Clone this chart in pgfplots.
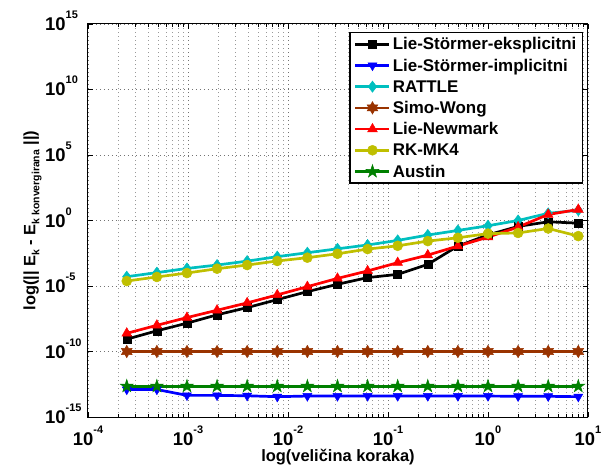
\documentclass[border=0pt]{standalone}
\usepackage{pgfplots}
\pgfplotsset{compat=1.18}
\usepackage{fontspec}
\setmainfont{Liberation Sans}
\usetikzlibrary{plotmarks}

\definecolor{mcyan}{rgb}{0,0.75,0.75}
\definecolor{mbrown}{rgb}{0.6,0.2,0}
\definecolor{myellow}{rgb}{0.75,0.75,0}
\definecolor{mgreen}{rgb}{0,0.5,0}

\pgfdeclareplotmark{hexa}{%
  \pgfpathmoveto{\pgfpointpolar{90}{\pgfplotmarksize}}%
  \pgfpathlineto{\pgfpointpolar{120}{0.577\pgfplotmarksize}}%
  \pgfpathlineto{\pgfpointpolar{150}{\pgfplotmarksize}}%
  \pgfpathlineto{\pgfpointpolar{180}{0.577\pgfplotmarksize}}%
  \pgfpathlineto{\pgfpointpolar{210}{\pgfplotmarksize}}%
  \pgfpathlineto{\pgfpointpolar{240}{0.577\pgfplotmarksize}}%
  \pgfpathlineto{\pgfpointpolar{270}{\pgfplotmarksize}}%
  \pgfpathlineto{\pgfpointpolar{300}{0.577\pgfplotmarksize}}%
  \pgfpathlineto{\pgfpointpolar{330}{\pgfplotmarksize}}%
  \pgfpathlineto{\pgfpointpolar{0}{0.577\pgfplotmarksize}}%
  \pgfpathlineto{\pgfpointpolar{30}{\pgfplotmarksize}}%
  \pgfpathlineto{\pgfpointpolar{60}{0.577\pgfplotmarksize}}%
  \pgfpathclose\pgfusepathqfillstroke}
\pgfdeclareplotmark{penta}{%
  \pgfpathmoveto{\pgfpointpolar{90}{\pgfplotmarksize}}%
  \pgfpathlineto{\pgfpointpolar{126}{0.382\pgfplotmarksize}}%
  \pgfpathlineto{\pgfpointpolar{162}{\pgfplotmarksize}}%
  \pgfpathlineto{\pgfpointpolar{198}{0.382\pgfplotmarksize}}%
  \pgfpathlineto{\pgfpointpolar{234}{\pgfplotmarksize}}%
  \pgfpathlineto{\pgfpointpolar{270}{0.382\pgfplotmarksize}}%
  \pgfpathlineto{\pgfpointpolar{306}{\pgfplotmarksize}}%
  \pgfpathlineto{\pgfpointpolar{342}{0.382\pgfplotmarksize}}%
  \pgfpathlineto{\pgfpointpolar{18}{\pgfplotmarksize}}%
  \pgfpathlineto{\pgfpointpolar{54}{0.382\pgfplotmarksize}}%
  \pgfpathclose\pgfusepathqfillstroke}

\newcommand{\pw}[1]{\fontsize{18.5}{18.5}\selectfont\bfseries 10\raisebox{12bp}{\fontsize{11}{11}\selectfont\bfseries #1}}

\begin{document}
\begin{tikzpicture}
\path[use as bounding box] (-88bp,-50bp) rectangle (518bp,417bp);
\begin{axis}[
  at={(0,0)}, anchor=south west,
  scale only axis, width=500bp, height=393bp,
  xmode=log, ymode=log,
  xmin=1e-4, xmax=10, ymin=1e-15, ymax=1e15,
  xtick={1e-4,1e-3,1e-2,1e-1,1,10},
  xticklabels={\pw{-4},\pw{-3},\pw{-2},\pw{-1},\pw{0},\pw{1}},
  ytick={1e-15,1e-10,1e-5,1,1e5,1e10,1e15},
  yticklabels={\pw{-15},\pw{-10},\pw{-5},\pw{0},\pw{5},\pw{10},\pw{15}},
  minor xtick={2e-4,3e-4,4e-4,5e-4,6e-4,7e-4,8e-4,9e-4,
               2e-3,3e-3,4e-3,5e-3,6e-3,7e-3,8e-3,9e-3,
               2e-2,3e-2,4e-2,5e-2,6e-2,7e-2,8e-2,9e-2,
               0.2,0.3,0.4,0.5,0.6,0.7,0.8,0.9,
               2,3,4,5,6,7,8,9},
  minor ytick={},
  xmajorgrids, ymajorgrids, xminorgrids,
  major grid style={line width=0.6bp, black!55, dash pattern=on 1bp off 3bp},
  minor grid style={line width=0.6bp, black!40, dash pattern=on 1bp off 3bp},
  tick align=inside,
  major tick length=5bp, minor tick length=3bp,
  every tick/.style={black, line width=0.6bp},
  axis line style={line width=1bp, black},
  xticklabel style={anchor=base, inner sep=0pt, yshift=-28bp},
  yticklabel style={anchor=base west, inner sep=0pt, xshift=-43bp, yshift=-6.5bp},
  xlabel={\fontsize{16.5}{16.5}\selectfont\bfseries log(veličina koraka)},
  xlabel style={at={(axis description cs:0.5,0)}, anchor=base, inner sep=0pt, yshift=-44bp},
  ylabel={\fontsize{16.5}{16.5}\selectfont\bfseries log(|| E\raisebox{-4bp}{\fontsize{10.5}{10.5}\selectfont k} - E\raisebox{-4bp}{\fontsize{10.5}{10.5}\selectfont k konvergirana} ||)},
  ylabel style={at={(axis description cs:-0.105,0.5)}, anchor=base, inner sep=0pt},
  legend cell align=left,
  legend style={at={(rel axis cs:0.99,0.9796)}, anchor=north east,
    draw=black, line width=1.3bp, fill=white,
    font=\fontsize{17}{17}\selectfont\bfseries,
    inner xsep=4bp, inner ysep=1bp, row sep=0pt,
    nodes={text height=16.2bp, text depth=5bp, inner ysep=0pt, inner xsep=2bp}},
  legend image code/.code={\draw[mark repeat=2,mark phase=2] plot coordinates {(0bp,0bp) (17bp,0bp) (34bp,0bp)};},
  every axis plot/.append style={line width=2.7bp},
]
% Lie-Stormer-eksplicitni
\addplot[black, mark=square*, mark size=4bp, mark options={solid, fill=black, line width=0.5bp}] coordinates {
(2.44140625e-4,8.71e-10) (4.8828125e-4,3.80e-9) (9.765625e-4,1.45e-8) (1.953125e-3,6.31e-8)
(3.90625e-3,2.24e-7) (7.8125e-3,9.12e-7) (1.5625e-2,3.72e-6) (3.125e-2,1.35e-5)
(6.25e-2,4.37e-5) (0.125,7.76e-5) (0.25,4.47e-4) (0.5,1.12e-2)
(1,7.94e-2) (2,0.355) (4,0.794) (8,0.631)};
\addlegendentry{Lie-Störmer-eksplicitni}
% Lie-Stormer-implicitni
\addplot[blue, mark=triangle*, mark size=5.2bp, mark options={solid, fill=blue, rotate=180, line width=0.5bp}] coordinates {
(2.44140625e-4,1.26e-13) (4.8828125e-4,1.26e-13) (9.765625e-4,4.47e-14) (1.953125e-3,4.47e-14)
(3.90625e-3,4.17e-14) (7.8125e-3,3.55e-14) (1.5625e-2,3.98e-14) (3.125e-2,3.98e-14)
(6.25e-2,3.98e-14) (0.125,3.98e-14) (0.25,3.98e-14) (0.5,3.98e-14)
(1,3.98e-14) (2,3.80e-14) (4,3.80e-14) (8,3.55e-14)};
\addlegendentry{Lie-Störmer-implicitni}
% RATTLE
\addplot[mcyan, mark=diamond*, mark size=5.6bp, mark options={solid, fill=mcyan, line width=0.5bp}] coordinates {
(2.44140625e-4,5.13e-5) (4.8828125e-4,1.05e-4) (9.765625e-4,2.19e-4) (1.953125e-3,3.98e-4)
(3.90625e-3,7.94e-4) (7.8125e-3,1.74e-3) (1.5625e-2,3.47e-3) (3.125e-2,6.92e-3)
(6.25e-2,1.35e-2) (0.125,3.02e-2) (0.25,7.76e-2) (0.5,0.174)
(1,0.398) (2,1.0) (4,3.55) (8,6.03)};
\addlegendentry{RATTLE}
% Simo-Wong
\addplot[mbrown, mark=hexa, mark size=6.2bp, mark options={solid, fill=mbrown, line width=0.5bp}] coordinates {
(2.44140625e-4,1e-10) (4.8828125e-4,1e-10) (9.765625e-4,1e-10) (1.953125e-3,1e-10)
(3.90625e-3,1e-10) (7.8125e-3,1e-10) (1.5625e-2,1e-10) (3.125e-2,1e-10)
(6.25e-2,1e-10) (0.125,1e-10) (0.25,1e-10) (0.5,1e-10)
(1,1e-10) (2,1e-10) (4,1e-10) (8,1e-10)};
\addlegendentry{Simo-Wong}
% Lie-Newmark
\addplot[red, mark=triangle*, mark size=5.6bp, mark options={solid, fill=red, line width=0.5bp}] coordinates {
(2.44140625e-4,2.45e-9) (4.8828125e-4,1.0e-8) (9.765625e-4,3.89e-8) (1.953125e-3,1.41e-7)
(3.90625e-3,5.13e-7) (7.8125e-3,2.09e-6) (1.5625e-2,8.91e-6) (3.125e-2,3.80e-5)
(6.25e-2,1.41e-4) (0.125,6.03e-4) (0.25,2.29e-3) (0.5,1.12e-2)
(1,5.37e-2) (2,0.316) (4,2.88) (8,6.92)};
\addlegendentry{Lie-Newmark}
% RK-MK4
\addplot[myellow, mark=*, mark size=5bp, mark options={solid, fill=myellow, line width=0.5bp}] coordinates {
(2.44140625e-4,2.40e-5) (4.8828125e-4,4.90e-5) (9.765625e-4,9.77e-5) (1.953125e-3,2.09e-4)
(3.90625e-3,3.98e-4) (7.8125e-3,8.13e-4) (1.5625e-2,1.45e-3) (3.125e-2,2.88e-3)
(6.25e-2,6.61e-3) (0.125,1.17e-2) (0.25,2.69e-2) (0.5,4.79e-2)
(1,0.1) (2,0.112) (4,0.245) (8,6.46e-2)};
\addlegendentry{RK-MK4}
% Austin
\addplot[mgreen, mark=penta, mark size=6.8bp, mark options={solid, fill=mgreen, line width=0.5bp}] coordinates {
(2.44140625e-4,2.24e-13) (4.8828125e-4,2.24e-13) (9.765625e-4,2.24e-13) (1.953125e-3,2.24e-13)
(3.90625e-3,2.24e-13) (7.8125e-3,2.24e-13) (1.5625e-2,2.24e-13) (3.125e-2,2.24e-13)
(6.25e-2,2.24e-13) (0.125,2.24e-13) (0.25,2.24e-13) (0.5,2.24e-13)
(1,2.24e-13) (2,2.24e-13) (4,2.24e-13) (8,2.24e-13)};
\addlegendentry{Austin}
\end{axis}
\end{tikzpicture}
\end{document}
